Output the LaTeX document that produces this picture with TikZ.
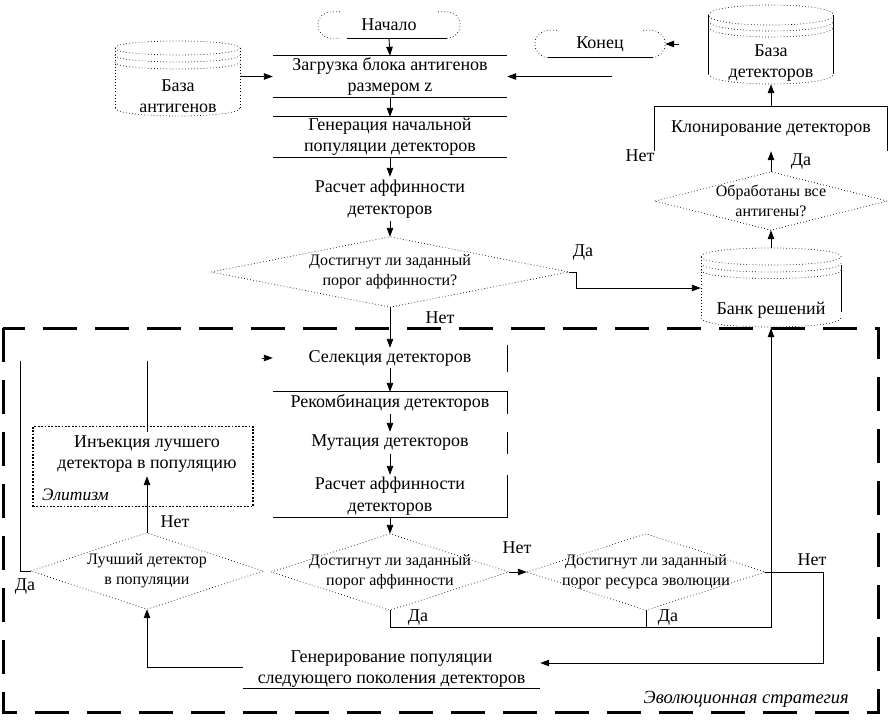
\documentclass[tikz,border=0pt]{standalone}
\usepackage{fontspec}
\setmainfont{Liberation Serif}
\usetikzlibrary{arrows.meta,calc}
\begin{document}
\begin{tikzpicture}[x=1pt,y=-1pt,
  font=\fontsize{18}{21.5}\selectfont,
  every node/.style={inner sep=0pt, align=center},
  box/.style={rectangle, minimum width=234pt},
  dtext/.style={font=\fontsize{16}{20}\selectfont},
  itext/.style={font=\fontsize{17.5}{20}\selectfont\itshape},
  dotline/.style={line width=0.7pt, dash pattern=on 0.7pt off 2.4pt},
  ln/.style={line width=0.9pt},
  arr/.style={ln, -{Triangle[length=9pt,width=6.5pt]}},
  elitbox/.style={draw, line width=1.8pt, dash pattern=on 1.8pt off 1.6pt},
  evobox/.style={line width=3pt, dash pattern=on 34pt off 18pt},
]
\useasboundingbox (0,0) rectangle (889,724);

% ---------------- top column ----------------
\node[minimum width=142pt, minimum height=26pt] (start) at (389,25) {Начало};
\draw[dotline, rounded corners=13pt] ($(start.north west)+(22,0)$) -- (start.north west) -- (start.south west) -- ($(start.south west)+(22,0)$);
\draw[dotline, rounded corners=13pt] ($(start.north east)+(-22,0)$) -- (start.north east) -- (start.south east) -- ($(start.south east)+(-22,0)$);
\draw[ln] ($(start.south west)+(29,0)$) -- ($(start.south east)+(-13,0)$);

\node[box, minimum height=41pt] (zag) at (390,76.5) {Загрузка блока антигенов\\размером z};
\draw[ln] (zag.north west) -- (zag.north east) (zag.south west) -- (zag.south east);
\node[box, minimum height=40pt] (gen) at (390,137) {Генерация начальной\\популяции детекторов};
\draw[ln] (gen.north west) -- (gen.north east) (gen.south west) -- (gen.south east);
\node[box, minimum height=44pt] (ras1) at (390,199) {Расчет аффинности\\детекторов};

\node[dtext, minimum width=357pt, minimum height=70pt] (d1) at (390,272) {Достигнут ли заданный\\порог аффинности?};
\draw[dotline] (d1.west) -- (d1.north) -- (d1.east) -- (d1.south) -- cycle;
\node (yes1) at (583,253) {Да};
\node (no1) at (440,318) {Нет};

% ---------------- left database ----------------
\node[minimum width=125pt, minimum height=76pt] (bazant) at (177.5,78) {};
\draw[dotline] (115,48) .. controls (115,38.67) and (240,38.67) .. (240,48) .. controls (240,57.33) and (115,57.33) .. (115,48);
\draw[dotline] (115,55) .. controls (115,64.33) and (240,64.33) .. (240,55);
\draw[dotline] (115,62) .. controls (115,71.33) and (240,71.33) .. (240,62);
\draw[dotline] (115,108) .. controls (115,118.67) and (240,118.67) .. (240,108);
\draw[dotline] (115,48) -- (115,108) (240,48) -- (240,108);
\node (bazanttxt) at (178,96) {База\\антигенов};

% ---------------- right column ----------------
\node[minimum width=130pt, minimum height=27pt] (kon) at (600,44) {Конец};
\draw[dotline, rounded corners=13.5pt] ($(kon.north west)+(22,0)$) -- (kon.north west) -- (kon.south west) -- ($(kon.south west)+(22,0)$);
\draw[dotline, rounded corners=13.5pt] ($(kon.north east)+(-22,0)$) -- (kon.north east) -- (kon.south east) -- ($(kon.south east)+(-22,0)$);
\draw[ln] ($(kon.south west)+(13,0)$) -- ($(kon.south east)+(-12,0)$);

\node[minimum width=125pt, minimum height=80pt] (bazdet) at (771,44) {};
\draw[dotline] (708.5,15) .. controls (708.5,1.67) and (833.5,1.67) .. (833.5,15) .. controls (833.5,28.33) and (708.5,28.33) .. (708.5,15);
\draw[dotline] (708.5,21) .. controls (708.5,34.33) and (833.5,34.33) .. (833.5,21);
\draw[dotline] (708.5,27) .. controls (708.5,40.33) and (833.5,40.33) .. (833.5,27);
\draw[dotline] (708.5,74) .. controls (708.5,87.33) and (833.5,87.33) .. (833.5,74);
\draw[ln] (708.5,15) -- (708.5,74) (833.5,15) -- (833.5,74);
\node (bazdettxt) at (771,63) {База\\детекторов};

\node[minimum width=233pt, minimum height=44pt] (klon) at (771,129) {Клонирование детекторов};
\draw[ln] (klon.south west) -- (klon.north west) -- (klon.north east) -- (klon.south east);

\node[dtext, minimum width=232pt, minimum height=58pt] (d4) at (771,201) {Обработаны все\\антигены?};
\draw[dotline] (d4.west) -- (d4.north) -- (d4.east) -- (d4.south) -- cycle;
\node (yes4) at (801,162) {Да};
\node (no4) at (640,156) {Нет};

\node[minimum width=140pt, minimum height=80pt] (bank) at (771,288) {};
\draw[dotline] (701,256.5) .. controls (701,245.17) and (841,245.17) .. (841,256.5) .. controls (841,267.83) and (701,267.83) .. (701,256.5);
\draw[dotline] (701,263.5) .. controls (701,274.83) and (841,274.83) .. (841,263.5);
\draw[dotline] (701,270) .. controls (701,281.33) and (841,281.33) .. (841,270);
\draw[dotline] (701,318) .. controls (701,330) and (841,330) .. (841,318);
\draw[dotline] (701,256.5) -- (701,318);
\draw[ln] (841,265) -- (841,312);
\node (banktxt) at (771,310) {Банк решений};

% ---------------- evolution strategy ----------------
\draw[evobox] (3,328) rectangle (878,712);
\node[font=\fontsize{18.5}{20}\selectfont\itshape, anchor=east] (evo) at (849,699) {Эволюционная стратегия};

\node[box, minimum height=20pt] (sel) at (390,358) {Селекция детекторов};
\draw[ln] ($(sel.north east)+(0,-3)$) -- ($(sel.south east)+(0,4)$);
\node[box, minimum height=22pt] (rec) at (390,403) {Рекомбинация детекторов};
\draw[ln] (rec.north west) -- (rec.north east) -- (rec.south east);
\node[box, minimum height=22pt] (mut) at (390,443) {Мутация детекторов};
\draw[ln] (mut.north east) -- (mut.south east);
\node[box, minimum height=42pt] (ras2) at (390,496) {Расчет аффинности\\детекторов};
\draw[ln] (ras2.north east) -- (ras2.south east) -- (ras2.south west);

\node[dtext, minimum width=237pt, minimum height=76pt] (d2) at (390,572) {Достигнут ли заданный\\порог аффинности};
\draw[dotline] (d2.west) -- (d2.north) -- (d2.east) -- (d2.south) -- cycle;
\node[dtext, minimum width=238pt, minimum height=76pt] (d3) at (646,572) {Достигнут ли заданный\\порог ресурса эволюции};
\draw[dotline] (d3.west) -- (d3.north) -- (d3.east) -- (d3.south) -- cycle;
\node[dtext, minimum width=232pt, minimum height=76pt] (best) at (147,571) {Лучший детектор\\в популяции};
\draw[dotline] (best.west) -- (best.north) -- (best.east) -- (best.south) -- cycle;

\node[minimum width=297pt, minimum height=38pt] (gen2) at (391.5,669) {Генерирование популяции\\следующего поколения детекторов};
\draw[ln] (gen2.south west) -- (gen2.south east);

\node[minimum width=200pt, minimum height=44pt] (inj) at (147,454) {Инъекция лучшего\\детектора в популяцию};
\node[elitbox, minimum width=220pt, minimum height=80pt] (elit) at (143,466.5) {};
\node[itext, anchor=west] (elittxt) at (42,495) {Элитизм};

\node (no2) at (517,548) {Нет};
\node (no3) at (812,560) {Нет};
\node (yes2) at (418,618) {Да};
\node (yes3) at (668,618) {Да};
\node (nob) at (175,522) {Нет};
\node (yesb) at (25,587) {Да};

\coordinate (selin) at (262,358);
\coordinate (injtop) at (147,361);
\coordinate (loopL) at (20,361);
\coordinate (j1) at (771,627);
\coordinate (konin) at (679,44);
\coordinate (zagin) at (612,76.5);

% ---------------- connectors ----------------
\draw[arr] (start.south) -- (zag.north);
\draw[arr] (zag.south) -- (gen.north);
\draw[arr] (gen.south) -- (ras1.north);
\draw[arr] (ras1.south) -- (d1.north);
\draw[arr] (bazant.east |- zag.west) -- (zag.west);
\draw[arr] (zagin) -- (zag.east);
\draw[arr] (konin) -- (kon.east);
\draw[arr] (d1.east) -- ++(8,0) |- (bank.west);
\draw[arr] (bank.north) -- (d4.south);
\draw[arr] (d4.north) -- (klon.south);
\draw[arr] (klon.north) -- (bazdet.south);

\draw[arr] (d1.south) -- (sel.north);
\draw[arr] (selin) -- (sel.west);
\draw[arr] (sel.south) -- (rec.north);
\draw[arr] (rec.south) -- (mut.north);
\draw[arr] (mut.south) -- (ras2.north);
\draw[arr] (ras2.south) -- (d2.north);
\draw[arr] (d2.east) -- (d3.west);
\draw[arr] (d3.east) -- ++(58,0) |- ($(gen2.east)+(0,-6)$);
\draw[arr] (d2.south) |- (j1) -- (bank.south);
\draw[ln] (d3.south) -- (d3.south |- j1);
\draw[arr] ($(gen2.west)+(0,-2)$) -| (best.south);
\draw[arr] (best.north) -- (inj.south);
\draw[ln] (inj.north) -- (injtop);
\draw[ln] (best.west) -- (loopL |- best.west) -- (loopL);
\end{tikzpicture}
\end{document}
